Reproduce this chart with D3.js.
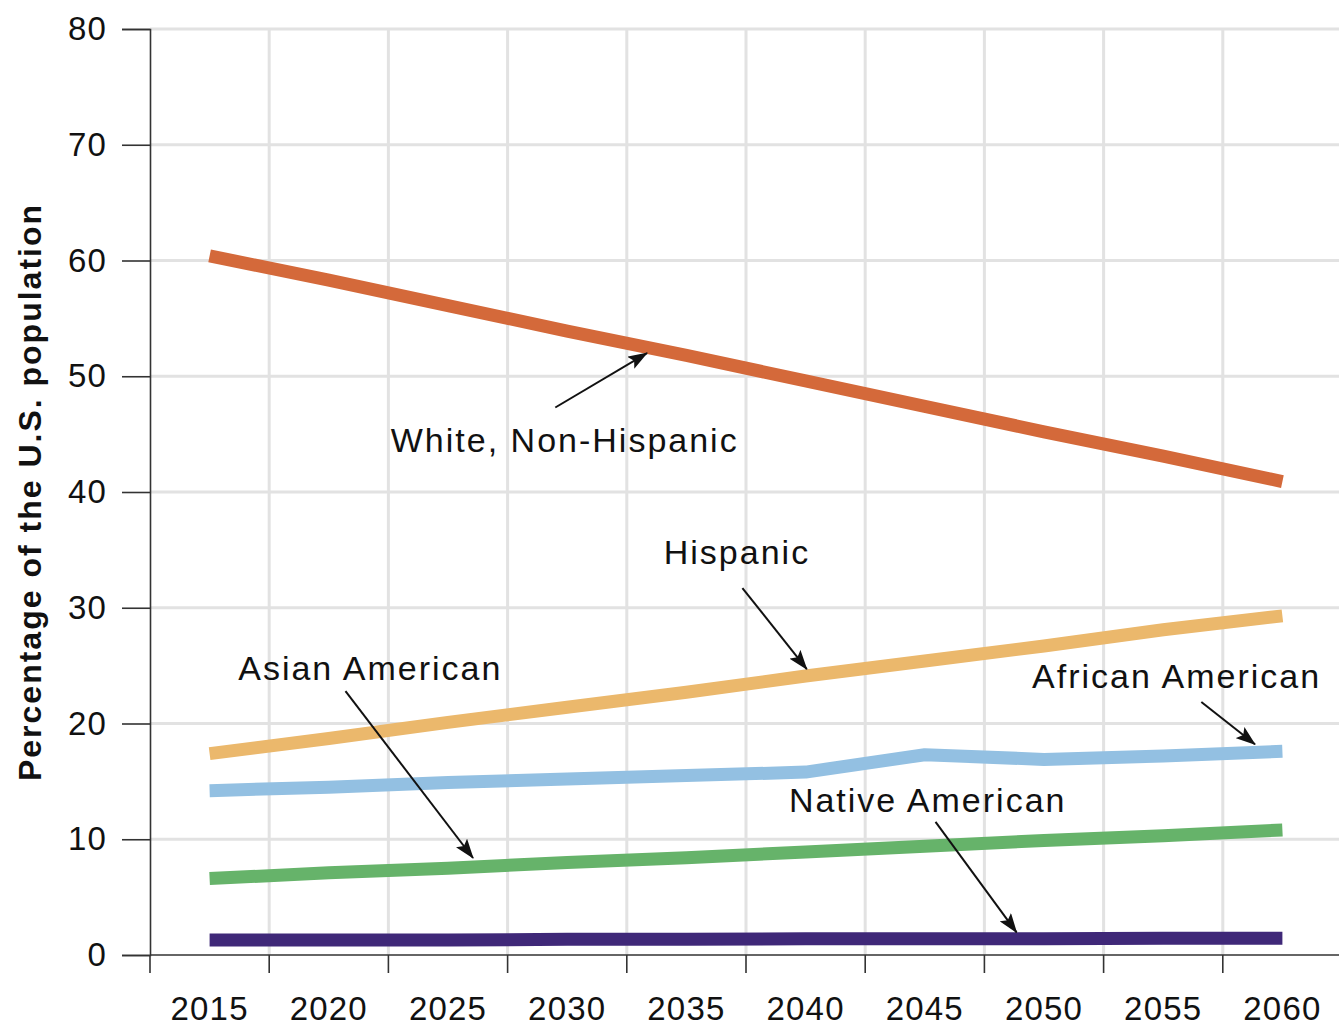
<!DOCTYPE html>
<html>
<head>
<meta charset="utf-8">
<script src="https://cdn.jsdelivr.net/npm/d3@7/dist/d3.min.js"></script>
<style>
  html, body { margin: 0; padding: 0; background: #fff; }
  svg { display: block; }
  text { font-family: "Liberation Sans", Arial, Helvetica, sans-serif; fill: #111; }
</style>
</head>
<body>
<script>
// ---------- DATA ----------
const years = [2015, 2020, 2025, 2030, 2035, 2040, 2045, 2050, 2055, 2060];
const white    = [60.4, 58.3, 56.1, 53.9, 51.8, 49.6, 47.4, 45.2, 43.1, 40.9];
const hispanic = [17.4, 18.7, 20.1, 21.4, 22.7, 24.1, 25.4, 26.7, 28.1, 29.3];
const african  = [14.2, 14.5, 14.9, 15.2, 15.5, 15.8, 17.3, 16.9, 17.2, 17.6];
const asian    = [6.6, 7.1, 7.5, 8.0, 8.4, 8.9, 9.4, 9.9, 10.3, 10.8];
const native   = [1.3, 1.3, 1.3, 1.35, 1.35, 1.4, 1.4, 1.4, 1.45, 1.45];
const yTicks = [0, 10, 20, 30, 40, 50, 60, 70, 80];
const yTitle = "Percentage of the U.S. population";

const seriesNames  = ["White, Non-Hispanic", "Hispanic", "African American", "Asian American", "Native American"];
const seriesValues = [white, hispanic, african, asian, native];
const seriesColors = ["#d4693a", "#ebb86c", "#93c0e2", "#66b36a", "#3f2878"];

// annotation label positions and arrows, in data units (year, percent)
const labelAnchor = [[2022.6, 43.46], [2034.05, 33.8], [2049.5, 23.07], [2016.2, 23.76], [2039.3, 12.35]];
const arrowFrom   = [[2029.5, 47.3], [2037.35, 31.7], [2056.6, 21.86], [2020.7, 22.8], [2045.45, 11.5]];
const arrowTo     = [[2033.35, 52.0], [2040.05, 24.7], [2058.85, 18.2], [2026.05, 8.38], [2048.85, 1.95]];

// ---------- LAYOUT ----------
const W = 1339, H = 1028;
const svg = d3.select("body").append("svg").attr("width", W).attr("height", H);

const x = d3.scaleLinear().domain([2012.5, 2062.5]).range([150, 1342]);
const y = d3.scaleLinear().domain([0, 80]).range([955, 29]);

const defs = svg.append("defs");
defs.append("clipPath").attr("id", "plotclip")
  .append("rect").attr("x", 150).attr("y", 0).attr("width", W - 150).attr("height", 956);
defs.append("marker").attr("id", "ah")
  .attr("markerUnits", "userSpaceOnUse")
  .attr("viewBox", "0 0 20 14").attr("markerWidth", 20).attr("markerHeight", 14)
  .attr("refX", 19).attr("refY", 7).attr("orient", "auto")
  .append("path").attr("d", "M0,0 L20,7 L0,14 L4,7 Z").attr("fill", "#111");

// grid
const grid = svg.append("g").attr("clip-path", "url(#plotclip)");
const gridYears = d3.range(2017.5, 2062.5, 5);
grid.selectAll("line.v").data(gridYears).join("line")
  .attr("x1", d => x(d)).attr("x2", d => x(d))
  .attr("y1", y(80)).attr("y2", y(0))
  .attr("stroke", "#e2e2e2").attr("stroke-width", 3);
grid.selectAll("line.h").data(yTicks.filter(d => d > 0)).join("line")
  .attr("x1", x(2012.5)).attr("x2", W)
  .attr("y1", d => y(d)).attr("y2", d => y(d))
  .attr("stroke", "#e2e2e2").attr("stroke-width", 3);

// series lines
const line = d3.line().x((d, i) => x(years[i])).y(d => y(d));
svg.append("g").selectAll("path").data(seriesValues).join("path")
  .attr("d", d => line(d))
  .attr("fill", "none")
  .attr("stroke", (d, i) => seriesColors[i])
  .attr("stroke-width", 13)
  .attr("stroke-linecap", "butt")
  .attr("stroke-linejoin", "round");

// y axis
const yAxis = d3.axisLeft(y).tickValues(yTicks).tickSize(28).tickPadding(15);
const gy = svg.append("g").attr("transform", `translate(${x(2012.5)},0)`).call(yAxis);
gy.select(".domain").attr("stroke", "#333").attr("stroke-width", 1.6);
gy.selectAll(".tick line").attr("stroke", "#333").attr("stroke-width", 1.6);
gy.selectAll(".tick text").attr("font-size", 33).attr("letter-spacing", "1.2px")
  .attr("font-family", "Liberation Sans, Arial, sans-serif").attr("fill", "#111");

// x axis: ticks at band boundaries, labels at band centers
const gx = svg.append("g").attr("transform", `translate(0,${y(0)})`);
gx.append("line").attr("x1", x(2012.5)).attr("x2", W).attr("y1", 0).attr("y2", 0)
  .attr("stroke", "#333").attr("stroke-width", 1.6);
gx.selectAll("line.tk").data([2012.5].concat(gridYears)).join("line")
  .attr("x1", d => x(d)).attr("x2", d => x(d)).attr("y1", 0).attr("y2", 18)
  .attr("stroke", "#333").attr("stroke-width", 1.6);
gx.selectAll("text").data(years).join("text")
  .attr("x", d => x(d)).attr("y", 65)
  .attr("text-anchor", "middle").attr("font-size", 33).attr("letter-spacing", "1.2px")
  .text(d => d);

// y title
svg.append("text")
  .attr("transform", `translate(41,${(y(0) + y(80)) / 2}) rotate(-90)`)
  .attr("text-anchor", "middle").attr("font-size", 32).attr("font-weight", "bold")
  .attr("letter-spacing", "2px")
  .text(yTitle);

// annotations
const ann = svg.append("g");
ann.selectAll("text").data(seriesNames).join("text")
  .attr("x", (d, i) => x(labelAnchor[i][0])).attr("y", (d, i) => y(labelAnchor[i][1]))
  .attr("font-size", 34).attr("letter-spacing", "2px")
  .text(d => d);
ann.selectAll("line").data(seriesNames).join("line")
  .attr("x1", (d, i) => x(arrowFrom[i][0])).attr("y1", (d, i) => y(arrowFrom[i][1]))
  .attr("x2", (d, i) => x(arrowTo[i][0])).attr("y2", (d, i) => y(arrowTo[i][1]))
  .attr("stroke", "#111").attr("stroke-width", 2)
  .attr("marker-end", "url(#ah)");
</script>
</body>
</html>
